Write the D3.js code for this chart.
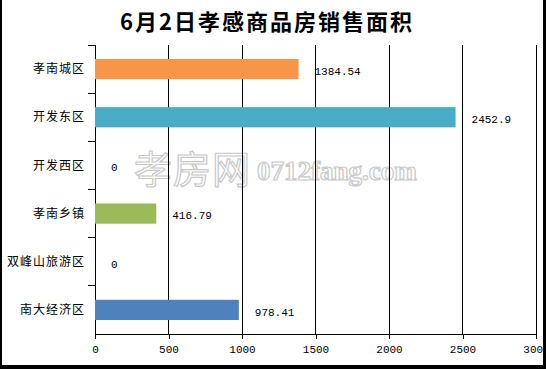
<!DOCTYPE html>
<html>
<head>
<meta charset="utf-8">
<script src="https://cdn.jsdelivr.net/npm/d3@7"></script>
<style>
  html, body { margin: 0; padding: 0; background: #fff; }
  svg { display: block; }
</style>
</head>
<body>
<svg id="chart" width="546" height="369"></svg>
<script>
// 数据
const titleText = "6月2日孝感商品房销售面积";
const areas = ["孝南城区", "开发东区", "开发西区", "孝南乡镇", "双峰山旅游区", "南大经济区"];
const sales = [1384.54, 2452.9, 0, 416.79, 0, 978.41];
const barColors = ["#F79646", "#4BACC6", "#4BACC6", "#9BBB59", "#4F81BD", "#4F81BD"];
const xTicks = [0, 500, 1000, 1500, 2000, 2500, 3000];

const svg = d3.select("#chart");
const W = 546, H = 369;
const m = { left: 95, right: 10, top: 45, bottom: 35 };

const x = d3.scaleLinear().domain([0, 3000]).range([m.left, 536]);
const y = d3.scaleBand().domain(areas).range([m.top, 334]).paddingInner(0.58).paddingOuter(0.29);
const band = d3.scaleBand().domain(areas).range([m.top, 334]);

// 标题
svg.append("text")
    .attr("x", 267).attr("y", 30)
    .attr("text-anchor", "middle")
    .style("font-family", "'Noto Sans CJK SC', sans-serif")
    .style("font-size", "22px")
    .style("font-weight", "bold")
    .style("letter-spacing", "2px")
    .text(titleText);

// 水印
const wm = svg.append("g").attr("class", "watermark")
    .attr("fill", "#fff").attr("stroke", "#c8c8c8").attr("stroke-width", 1.2);
wm.append("text")
    .attr("x", 134).attr("y", 183)
    .style("font-family", "'Noto Sans CJK SC', sans-serif")
    .style("font-size", "38px")
    .style("letter-spacing", "1px")
    .text("孝房网");
wm.append("text")
    .attr("x", 257).attr("y", 180)
    .style("font-family", "'Liberation Serif', serif")
    .style("font-size", "27px")
    .style("font-weight", "bold")
    .text("0712fang.com");

// 网格线
svg.append("g").selectAll("line")
    .data(xTicks.slice(1))
    .join("line")
    .attr("x1", d => x(d)).attr("x2", d => x(d))
    .attr("y1", m.top).attr("y2", 334)
    .attr("stroke", "#000").attr("stroke-width", 1)
    .attr("shape-rendering", "crispEdges");

// x 轴
const xAxis = svg.append("g")
    .attr("transform", "translate(0,334)")
    .call(d3.axisBottom(x).tickValues(xTicks).tickSize(5).tickPadding(6).tickFormat(d3.format("d")));
xAxis.select(".domain").attr("stroke", "#000").attr("shape-rendering", "crispEdges");
xAxis.selectAll(".tick line").attr("stroke", "#000").attr("shape-rendering", "crispEdges");
xAxis.selectAll("text")
    .style("font-family", "'Liberation Mono', monospace")
    .style("font-size", "11px")
    .attr("fill", "#000");

// y 轴
const yAxisG = svg.append("g").attr("transform", `translate(${m.left},0)`);
yAxisG.append("line")
    .attr("x1", 0).attr("x2", 0).attr("y1", m.top).attr("y2", 334)
    .attr("stroke", "#000").attr("shape-rendering", "crispEdges");
yAxisG.selectAll("line.tk")
    .data(areas)
    .join("line")
    .attr("class", "tk")
    .attr("x1", -7).attr("x2", 0)
    .attr("y1", d => band(d)).attr("y2", d => band(d))
    .attr("stroke", "#000").attr("shape-rendering", "crispEdges");
yAxisG.selectAll("text")
    .data(areas)
    .join("text")
    .attr("x", -10)
    .attr("y", d => band(d) + band.bandwidth() / 2)
    .attr("dy", "0.35em")
    .attr("text-anchor", "end")
    .style("font-family", "'Noto Sans CJK SC', sans-serif")
    .style("font-size", "12px")
    .style("letter-spacing", "1px")
    .text(d => d);

// 柱
svg.append("g").selectAll("rect")
    .data(sales)
    .join("rect")
    .attr("x", x(0))
    .attr("y", (d, i) => y(areas[i]))
    .attr("width", d => x(d) - x(0))
    .attr("height", y.bandwidth())
    .attr("fill", (d, i) => barColors[i]);

// 数值标签
svg.append("g").selectAll("text")
    .data(sales)
    .join("text")
    .attr("x", d => x(d) + 16)
    .attr("y", (d, i) => band(areas[i]) + band.bandwidth() / 2 + 2)
    .attr("dy", "0.35em")
    .style("font-family", "'Liberation Mono', monospace")
    .style("font-size", "11px")
    .text(d => d);

// 边框
svg.append("rect").attr("x", 0).attr("y", 0).attr("width", 2).attr("height", H).attr("fill", "#000");
svg.append("rect").attr("x", 543).attr("y", 0).attr("width", 3).attr("height", H).attr("fill", "#000");
svg.append("rect").attr("x", 0).attr("y", 365).attr("width", W).attr("height", 4).attr("fill", "#000");
</script>
</body>
</html>
